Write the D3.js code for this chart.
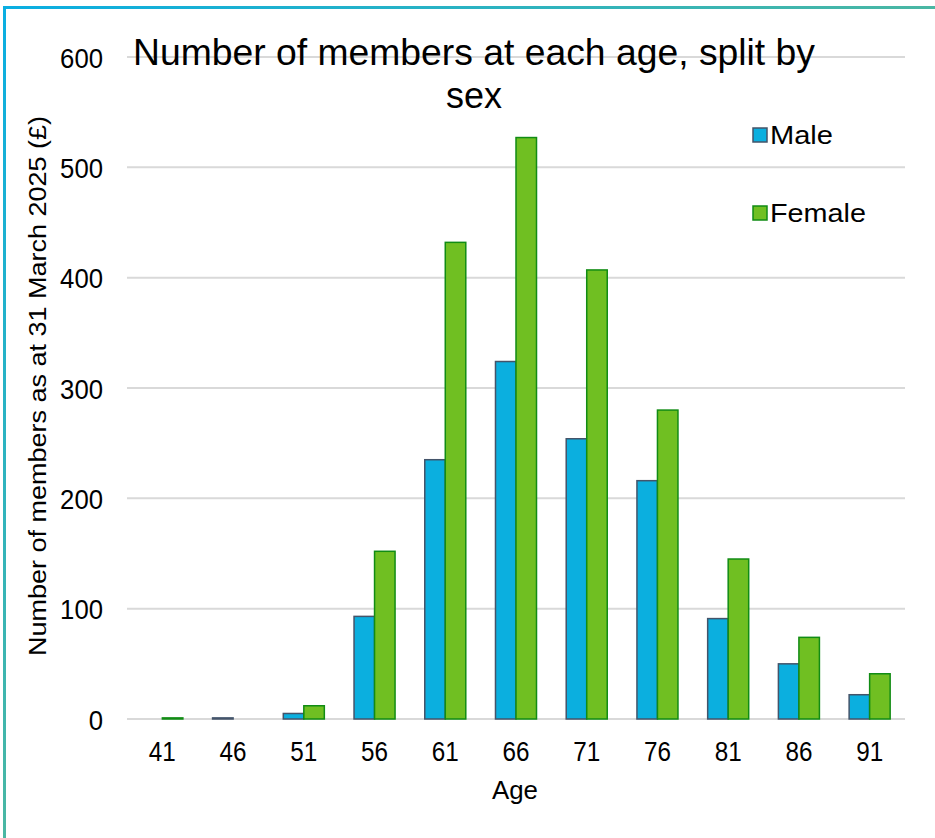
<!DOCTYPE html>
<html><head><meta charset="utf-8">
<script src="https://cdn.jsdelivr.net/npm/d3@7/dist/d3.min.js"></script>
<style>body{margin:0;background:#fff;}svg{display:block;font-family:"Liberation Sans",Arial,sans-serif;}</style>
</head><body>
<svg id="c" width="935" height="838"></svg>
<script>
const ages = ["41","46","51","56","61","66","71","76","81","86","91"];
const male = [0,1,5,93,235,324,254,216,91,50,22];
const female = [1,0,12,152,432,527,407,280,145,74,41];
const yTicks = [0,100,200,300,400,500,600];
const seriesNames = ["Male","Female"];
const fills = ["#0bafdf","#70bf22"];
const strokes = ["#44546a","#118c14"];

const svg = d3.select("#c");
const defs = svg.append("defs");
const g1 = defs.append("linearGradient").attr("id","gt").attr("x1","0").attr("x2","1").attr("y1","0").attr("y2","0");
g1.append("stop").attr("offset","0").attr("stop-color","#0aaee2");
g1.append("stop").attr("offset","1").attr("stop-color","#4ab7a3");
const g2 = defs.append("linearGradient").attr("id","gl").attr("x1","0").attr("x2","0").attr("y1","0").attr("y2","1");
g2.append("stop").attr("offset","0").attr("stop-color","#0aaee2");
g2.append("stop").attr("offset","1").attr("stop-color","#4ab7a3");
svg.append("rect").attr("x",3).attr("y",6).attr("width",932).attr("height",3).attr("fill","url(#gt)");
svg.append("rect").attr("x",3).attr("y",6).attr("width",3).attr("height",832).attr("fill","url(#gl)");

const L=127,R=905,T=57,B=719;
const x = d3.scaleBand().domain(ages).range([L,R]).paddingInner(0.42).paddingOuter(0.21);
const xs = d3.scaleBand().domain(seriesNames).range([0,x.bandwidth()]);
const y = d3.scaleLinear().domain([0,600]).range([B,T]);

// gridlines
svg.append("g").selectAll("line").data(yTicks).join("line")
  .attr("x1",L).attr("x2",R).attr("y1",d=>y(d)).attr("y2",d=>y(d))
  .attr("stroke","#d9d9d9").attr("stroke-width",2);

// y axis labels
const yAxis = d3.axisLeft(y).tickValues(yTicks).tickSize(0).tickPadding(0);
const ya = svg.append("g").attr("transform",`translate(103,0)`).call(yAxis);
ya.select(".domain").remove();
ya.selectAll("text").attr("font-size",28).attr("fill","#000").attr("font-family","Liberation Sans, Arial, sans-serif")
  .attr("dy","0.36em").attr("lengthAdjust","spacingAndGlyphs").attr("textLength",d=>String(d).length*14.3);

// x axis labels
const xAxis = d3.axisBottom(x).tickSize(0).tickPadding(0);
const xa = svg.append("g").attr("transform",`translate(0,${B+42})`).call(xAxis);
xa.select(".domain").remove();
xa.selectAll("text").attr("font-size",27).attr("fill","#000").attr("font-family","Liberation Sans, Arial, sans-serif")
  .attr("dy","0").attr("lengthAdjust","spacingAndGlyphs").attr("textLength",27);

// bars
const data = [male,female];
data.forEach((vals,si)=>{
  svg.append("g").selectAll("rect").data(ages.map((a,i)=>({a,v:vals[i]}))).join("rect")
    .attr("x",d=>x(d.a)+xs(seriesNames[si]))
    .attr("width",xs.bandwidth())
    .attr("y",d=>y(d.v))
    .attr("height",d=>B-y(d.v))
    .attr("fill",fills[si]).attr("stroke",strokes[si]).attr("stroke-width",1.5);
});

// title
svg.append("text").attr("x",133).attr("y",65).attr("font-size",36).attr("fill","#000")
  .attr("textLength",682).attr("lengthAdjust","spacingAndGlyphs").text("Number of members at each age, split by");
svg.append("text").attr("x",446).attr("y",108).attr("font-size",36).attr("fill","#000")
  .attr("textLength",56).attr("lengthAdjust","spacingAndGlyphs").text("sex");

// axis titles
svg.append("text").attr("x",492).attr("y",799).attr("font-size",26).attr("fill","#000")
  .attr("textLength",46).attr("lengthAdjust","spacingAndGlyphs").text("Age");
svg.append("text").attr("transform","translate(46,656) rotate(-90)").attr("x",0).attr("y",0).attr("font-size",23).attr("fill","#000")
  .attr("textLength",540).attr("lengthAdjust","spacingAndGlyphs")
  .text("Number of members as at 31 March 2025 (£)");

// legend
const lg = svg.append("g");
const legW = [63,96];
seriesNames.forEach((n,i)=>{
  const yy = 128 + i*78;
  lg.append("rect").attr("x",753).attr("y",yy).attr("width",14).attr("height",14).attr("fill",fills[i]).attr("stroke",strokes[i]).attr("stroke-width",1.5);
  lg.append("text").attr("x",770).attr("y",yy+16).attr("font-size",26).attr("fill","#000")
    .attr("textLength",legW[i]).attr("lengthAdjust","spacingAndGlyphs").text(n);
});
</script>
</body></html>
